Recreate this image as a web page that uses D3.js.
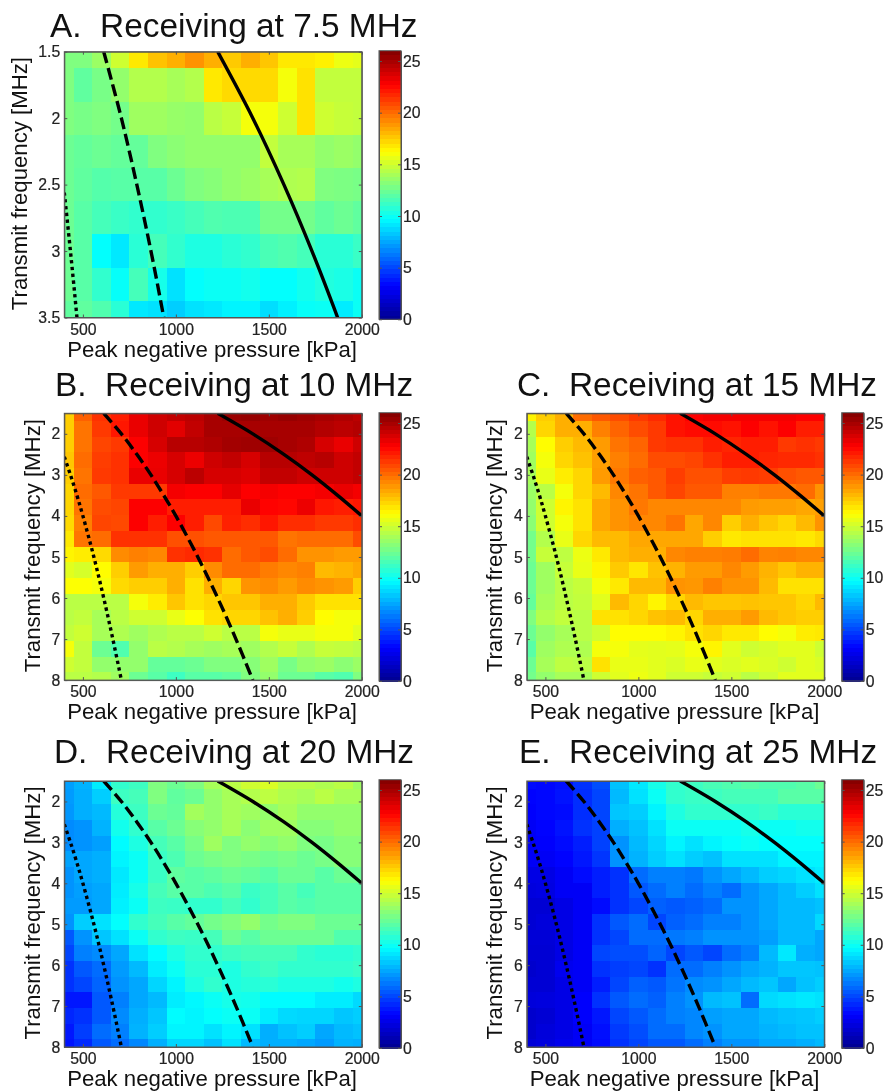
<!DOCTYPE html>
<html>
<head>
<meta charset="utf-8">
<title>Receiving frequency maps</title>
<style>
html, body {margin: 0; padding: 0; background: #fff;}
svg {display: block; filter: blur(0.6px);}
text {font-family: "Liberation Sans", Arial, sans-serif; fill: #111;}
.title {font-size: 33.4px; white-space: pre;}
.label {font-size: 22.2px;}
.tick text {font-size: 15.8px; fill: #222; stroke: #222; stroke-width: 0.2px;}
.domain, .tick line {stroke: #555; stroke-width: 1;}
.cell {shape-rendering: crispEdges;}
</style>
</head>
<body>
<div id="chart"></div>
<script src="https://cdnjs.cloudflare.com/ajax/libs/d3/7.8.5/d3.min.js"></script>
<script>
var pressures = [400, 500, 600, 700, 800, 900, 1000, 1100, 1200, 1300, 1400, 1500, 1600, 1700, 1800, 1900, 2000];
var freqsShort = [1.5, 1.75, 2, 2.25, 2.5, 2.75, 3, 3.25, 3.5];
var freqsLong = [1.5, 1.88, 2.26, 2.65, 3.03, 3.41, 3.79, 4.18, 4.56, 4.94, 5.32, 5.71, 6.09, 6.47, 6.85, 7.24, 7.62, 8];

var xTicks = [500, 1000, 1500, 2000];
var yTicksShort = [1.5, 2, 2.5, 3, 3.5];
var yTicksLong = [2, 3, 4, 5, 6, 7, 8];
var colorTicks = [0, 5, 10, 15, 20, 25];

// pressure at which each threshold line crosses a transmit frequency
var solidFreq = [1.5, 2, 2.5, 3, 3.5, 4];
var solidKpa = [1225, 1414, 1581, 1732, 1870, 2000];
var dashedFreq = [1.5, 2, 2.5, 3, 3.5, 4, 5, 6, 7, 8];
var dashedKpa = [612, 707, 790, 866, 935, 1000, 1118, 1225, 1323, 1414];
var dottedFreq = [2.56, 3, 3.5, 4, 5, 6, 7, 8];
var dottedKpa = [400, 433, 468, 500, 559, 612, 661, 707];

var valuesA = [
	[13,13,13.7,15,16.8,17.8,18.3,19,18.3,17.6,18.3,17.7,16.8,16.8,16.6,15.8,15.6],
	[13,12.2,12.8,13.5,14.3,14.3,14,14.3,16.8,17.2,17.2,17.2,16,17,14.7,14.7,14.7],
	[13,12.8,13,12.7,13.8,13.8,13.6,13.5,14.5,14.8,16,16,15,17,15,14.8,14.7],
	[12.5,12.3,12.5,12.3,12.3,13,13.3,13.5,13.5,13.5,13.5,14.7,14,14,13.5,13.7,13.5],
	[12.5,12.2,11.9,12,12,12,12.5,13,13.2,13.5,13.7,14,14.2,14.3,13,12.9,12.8],
	[12.5,12,11.5,11.2,11,11,11.2,11.5,11.8,11.7,11.7,12.7,12.7,12.7,12.2,12.5,12.2],
	[12.5,12,9.8,9.2,10.8,11.5,11,10.5,10.5,10.8,11,11.6,11.8,11.5,10.8,10.8,11.2],
	[12.5,12,11,9.9,11.5,10.3,9,9.8,10,10,10.2,9.8,9.8,10.2,10.6,10.4,10],
	[12.2,12.2,11.8,10.8,9.2,9,8.5,9,9.2,9.5,9.5,8.9,9.4,9.9,10,9.3,10]
];

var valuesB = [
	[17.5,20.3,21.5,22,23.3,24,24.3,24.5,25,25.3,25.4,25.2,25.4,25.2,25,24.8,24.5],
	[17.5,19.8,21.3,22.2,23.3,24,23.5,24.3,25,25,25,25,25,25,24.7,24.5,24.7],
	[17.5,19.8,21,21.3,22.8,23.8,24.6,24.6,24.8,25.1,25.2,25.2,25,24.8,23.8,23.3,24],
	[17.7,20,21.2,21.5,22.8,23.2,23.8,23.2,24,24.3,23.8,24.6,24.6,24.4,24.6,24,24.3],
	[17.5,19.8,21.3,21.5,23.3,23.3,23.8,24.5,23.8,23.8,23.6,24.3,24.3,24,24,24,24.3],
	[17.3,20,20.5,21.3,21.3,21.3,23,22.8,22.8,23.4,22.8,23,22.8,22.8,23,23.3,23],
	[17.3,19.8,20.8,21,22.8,22.8,22,22,22,22,23.3,22.7,22.6,23.2,22.2,22,22.2],
	[17.2,19.5,21,20.9,22.8,22,22.8,22,20.9,21.9,21.6,22.2,21.6,21.6,21.3,21.3,21.6],
	[16.8,19.8,20,21.5,21.5,21.5,20.7,20.7,20.5,20.5,20.5,20.5,19.8,20,20,20,20.8],
	[16.5,16.7,17.2,19.2,19.5,19.3,21.5,21.7,21.5,20,20.5,20.8,20,19,19,18.8,18.8],
	[15.5,15.2,16.3,17.5,18.8,18.3,18.3,17.5,19.2,20,20,19.6,19.3,19.5,18,18.2,18.5],
	[16.2,16.2,16,17.2,17.5,17.5,18.3,17,18.3,17.3,19,19.2,18.8,19.2,19,18.8,17.5],
	[14.5,14.5,14.5,14.5,16,16.7,17.7,17,17.3,17.7,17.7,18.3,18.3,17.6,17,17,17],
	[14.5,14.7,14,14.5,15,15,15.7,16.2,17,17.3,17.3,17.8,18.3,17.5,16.3,16,16],
	[14.7,15,14,14.2,13.8,14.2,14.5,14.5,15,14.5,14.5,16,15.7,15.7,16,16,15.5],
	[16,14.7,12.5,11.8,13.5,14.5,14.3,14,13.8,14,13.8,14.3,14.8,14.2,14.8,14.7,14.5],
	[15,14.7,13.5,13.5,13.5,12.3,12.3,12.5,13,13,13.2,13.8,12.8,13.5,13.7,13.3,13.7],
	[14.5,14.5,14.3,13.8,12.5,12,11.3,12,12,12.2,13,13.5,12.5,12.5,12,11.8,13]
];

var valuesC = [
	[16.5,17.5,18.3,20,20.5,20.8,21.3,21.7,22.3,22.8,23,23,23,23,23,22.8,22.8],
	[14.3,17.3,18.3,18.3,19.5,20.2,20.8,21.3,22.3,22.5,22.5,22.3,22.8,22.3,22.8,22,22],
	[14,16.3,17.5,18,18.8,19.8,20.2,21.3,21.5,21.5,22,21.8,22,22,21.3,21.5,21.3],
	[13.8,16,17.3,17.8,18.7,19.5,20,20.8,20.8,21,21.5,22,22,21.8,21.7,21.7,21.5],
	[14,15.7,16.7,17.3,18.8,19.7,20.3,20.5,21.2,20.7,20.7,21.2,21.3,21.2,20.7,20.5,20.5],
	[13.7,14.5,16,17.3,18,19.3,19.8,20.5,21,20.5,20.5,19.5,19.5,19.7,19.7,20,19],
	[13.5,15,16.5,17,18.5,19,19.7,19.3,19.3,19.3,19.3,19.3,18.8,18.7,18.7,18.5,18.7],
	[13.3,15,16,17,18.5,19,19.3,19.3,19.8,18.5,19.3,17.5,18.3,17.7,17.3,18,19],
	[12.7,14.3,15.7,17.3,18,18,18.5,18.5,18.5,18.5,17.5,16.8,17,17,17,16.8,17.2],
	[12.7,14.8,14.6,15.8,16.8,18,18.3,18.3,19.3,19.5,19.5,19.6,20,19.4,19.5,19.3,19.3],
	[12.5,13.8,14.8,15.7,16.5,17.6,16.9,17.8,18.2,18.8,18.8,19.3,18.8,18.2,17.7,18.2,18.2],
	[12.5,13.8,14.5,14.8,16,16.8,18,18,19,18.9,19.5,19,19,18,17,17,17],
	[12.3,14,14.5,14.7,15.5,18,17.3,16.5,17.3,18,17.7,17.7,17.8,17.7,17.7,17.3,18],
	[13,14.3,14.7,14.5,17,17,17.3,17.8,18,17.3,18.3,18.3,18.8,18,17.7,17.5,17.5],
	[12.5,13.5,14,14.5,15,16.3,16.3,16.3,16.5,17,17.3,16.8,16.8,16.3,16,16.7,16.8],
	[12,13.8,14.2,14.2,16,16,15.6,15.5,15.6,16,16.5,15.5,15,15.2,15.5,15.5,15],
	[12.5,14,14.6,14.5,17,15.7,15.7,15.5,15.3,15.7,15.5,15.3,15.5,15.3,15,15.5,15.3],
	[12.7,13.5,14,14,15,15.5,15.8,15.5,15,15,14.8,15,14.5,15,15.5,15.5,15.5]
];

var valuesD = [
	[7.3,7.8,9.3,11,11.3,13,12.5,13,14,14.5,15,15.3,14.5,14.5,14.2,14.5,13.8],
	[7.2,7.7,8.5,11.3,11.5,13,12.2,12.5,13.5,14,14.3,14.6,14.2,14,14.5,14,14],
	[7.1,7.7,8,10.7,11.3,12.5,12.3,13.9,13.5,14,13.8,13.5,14,13.5,13.5,13.5,13.5],
	[6.8,7,7.8,10.2,11,12,12.5,13.2,13.5,14,13.3,13.8,13.8,13.2,13.2,13.5,13.5],
	[6.8,7,7.3,9.7,10.5,11.5,12,12.8,13.8,13,13.5,13.2,13.5,13,12.8,13.2,13.2],
	[7.4,7.5,7.7,9.5,10,11.2,11.7,12.5,12.8,13,12.8,12.6,12.8,12.5,12.8,13.2,13.2],
	[7,7.5,7.7,9.2,10,11.2,12.2,12,12.2,12.5,12.3,12,12.5,12.5,12,12.5,12.5],
	[7,7.3,7.5,9.3,10.3,11.5,12,12,11.7,12,11.2,11.5,12,11.5,12,12,12],
	[7.2,7.2,7.5,9.4,10,11.3,11.2,11,11,11.5,11,11.5,12,11.8,12,12,12],
	[7,8.5,9,9.8,11,11.5,12,12.3,12.7,13,13.5,12.7,13,13,12.5,12.5,12.5],
	[5.5,7,8.3,9,10,11,11.3,11.2,11.5,12.5,12,12.5,12.5,12.5,12.5,11.8,11.8],
	[5,6.5,6.8,7.5,9,9.7,10.5,11,11,11.3,11.5,11.5,11.5,11,10.8,10.8,11],
	[4.5,5.5,6,7.2,8,9.3,10,10.8,10.8,10.5,11,11.3,11,11,11,11,11.2],
	[4.5,5,5.8,7,7.5,8.7,9.5,10.5,11,10.5,10.7,10.8,10.5,10.5,10.5,10.2,10.5],
	[3.8,3.8,5.5,6.5,7.5,8,9.3,9.6,10,10.3,10.2,9.7,9.7,9.7,9.3,9.3,8.8],
	[4.2,4.5,5.5,6.8,7.7,8.3,9.7,9.5,9.8,10,10,9.3,8.8,8.7,8.7,8.3,8.5],
	[3.8,4.8,6,6.5,7.8,8.5,9.5,9.5,9,9.5,9,7.7,8.2,8.5,7.5,8,8.2],
	[3.7,4.3,5.5,6,6.7,7.7,8.7,8.7,8.2,9,8,7.7,7.7,7.5,7.2,7.8,7.7]
];

var valuesE = [
	[3.5,3.4,3.6,4.5,5.2,8.2,9.2,10.3,11,11.3,11.6,11.8,12,11.8,11.8,12,12.5],
	[3.3,3.4,3.7,4.4,5,8,9,10,11,11.2,11.3,11.5,11.5,11.5,12,12,12],
	[3.2,3.4,3.5,4.4,5,8.3,8.5,9.5,10.5,11,11,11,11,11.2,10.8,10.8,10.8],
	[3,3.3,3.7,4.5,4.9,7.7,8.2,9,10,10,10,10,10.3,10,10,10.2,10.2],
	[3,3.2,3.5,4,4.9,7,8,8.7,9.5,9,9.5,9.8,10,9.8,9.8,9.8,9.8],
	[3,3,3.3,3.8,4.6,7,7.8,8.5,9,8.5,8.2,9,9,9,9.5,9.5,9.5],
	[2.5,2.5,3,3.5,4,4.5,6,6.5,6.5,6.3,7,7.5,8,8.5,8.7,9,9.3],
	[2.3,2.4,3,3,4,4.5,5.5,6,6.5,6,6.5,6,7,7.5,8,8.5,9],
	[2,2,2.5,3,3.5,4.5,5,5.7,5.5,5.7,6,7,7,7.5,8,8,8.2],
	[2,2.2,2.5,3,4.5,5.5,6,5,5.7,6,6.5,6.5,7,7.5,8,8,8.8],
	[2.1,2.1,2.5,3,4.5,5,6,6,6.3,6.5,7,7,7,7.3,8,8,7.5],
	[2,2,2.5,3,5,5.2,5.2,5.8,5,5.5,5,6,6.5,8,9.2,7.7,7.5],
	[1.8,2,2.8,3,4.5,4.8,5,4.5,6,6,6.5,7,7.5,7.8,8.3,8.3,8.2],
	[2,2,2.5,3,4,5,5.7,5.5,6.2,6.8,7,7.5,8,8.3,7.5,8.2,8.5],
	[2.2,2.3,2.5,3.2,4.5,5.5,6,5.7,6.5,7,8,8.2,6,8.8,9,9.2,9],
	[1.8,2,2.5,3.2,3.8,5,5.5,6,6.5,6.7,7.3,7.5,7.5,8,8.2,8.3,8.5],
	[1.8,2.2,2.5,3,3.6,4.7,5.2,6,6,6.7,7,7.5,7.5,7.8,8,8.2,8.2],
	[2.1,2.3,2.7,3,3.5,4.5,5,5.5,5.5,6,6.5,7,7,7.5,7.5,7.7,8]
];

(function(d3) {
	var width = 885;
	var height = 1091;
	var plotWidth = 297.5;
	var barWidth = 22;

	var jet = d3.scaleLinear()
		.domain([0, 3.25, 9.75, 16.25, 22.75, 26])
		.range(['#00008f', '#0000ff', '#00ffff', '#ffff00', '#ff0000', '#800000']);

	var panels = [
		{title: 'A.  Receiving at 7.5 MHz', values: valuesA, freqs: freqsShort, yTicks: yTicksShort, yFormat: d3.format('.2~f'),
			left: 64.3, top: 51.7, h: 265.8, barLeft: 379, barTop: 50.7, barH: 268.6, titleX: 50, titleY: 37, yLabelX: 26.5, xLabelY: 357},
		{title: 'B.  Receiving at 10 MHz', values: valuesB, freqs: freqsLong, yTicks: yTicksLong, yFormat: d3.format('d'),
			left: 64.3, top: 413.3, h: 266.8, barLeft: 379, barTop: 412.7, barH: 268.3, titleX: 55, titleY: 396, yLabelX: 39.5, xLabelY: 719},
		{title: 'C.  Receiving at 15 MHz', values: valuesC, freqs: freqsLong, yTicks: yTicksLong, yFormat: d3.format('d'),
			left: 526.8, top: 413.3, h: 266.8, barLeft: 841.7, barTop: 412.7, barH: 268.3, titleX: 517, titleY: 396, yLabelX: 502, xLabelY: 719},
		{title: 'D.  Receiving at 20 MHz', values: valuesD, freqs: freqsLong, yTicks: yTicksLong, yFormat: d3.format('d'),
			left: 64.3, top: 781, h: 266, barLeft: 379, barTop: 779.7, barH: 268.3, titleX: 54, titleY: 762.5, yLabelX: 39.5, xLabelY: 1086},
		{title: 'E.  Receiving at 25 MHz', values: valuesE, freqs: freqsLong, yTicks: yTicksLong, yFormat: d3.format('d'),
			left: 526.8, top: 781, h: 266, barLeft: 841.7, barTop: 779.7, barH: 268.3, titleX: 519, titleY: 762.5, yLabelX: 502, xLabelY: 1086}
	];

	var svg = d3.select('#chart')
		.append('svg')
		.attr('width', width)
		.attr('height', height);

	// half-way edges, the first and last cell are cut at the axis limits
	function edges(list) {
		return list.map(function(d, i) {
			return [i === 0 ? d : (list[i - 1] + d) / 2, i === list.length - 1 ? d : (d + list[i + 1]) / 2];
		});
	}

	function zip(fs, ps) {
		return fs.map(function(f, i) { return {f: f, p: ps[i]}; });
	}

	var xEdges = edges(pressures);
	var thresholds = [
		{points: zip(solidFreq, solidKpa), dash: null},
		{points: zip(dashedFreq, dashedKpa), dash: '12 5'},
		{points: zip(dottedFreq, dottedKpa), dash: '3.4 3.4'}
	];

	panels.forEach(function(panel, n) {
		var x = d3.scaleLinear().domain([400, 2000]).range([0, plotWidth]);
		var y = d3.scaleLinear()
			.domain([panel.freqs[0], panel.freqs[panel.freqs.length - 1]])
			.range([0, panel.h]);
		var yEdges = edges(panel.freqs);

		var g = svg.append('g')
			.attr('transform', 'translate(' + panel.left + ',' + panel.top + ')');

		g.append('clipPath')
			.attr('id', 'clip' + n)
			.append('rect')
			.attr('width', plotWidth)
			.attr('height', panel.h);

		panel.values.forEach(function(row, r) {
			g.append('g').selectAll('rect')
				.data(row)
				.enter()
				.append('rect')
				.attr('class', 'cell')
				.attr('x', function(d, c) { return x(xEdges[c][0]); })
				.attr('y', y(yEdges[r][0]))
				.attr('width', function(d, c) { return x(xEdges[c][1]) - x(xEdges[c][0]) + 0.5; })
				.attr('height', y(yEdges[r][1]) - y(yEdges[r][0]) + 0.5)
				.attr('fill', function(d) { return jet(d); });
		});

		var line = d3.line()
			.x(function(d) { return x(d.p); })
			.y(function(d) { return y(d.f); })
			.curve(d3.curveCatmullRom);

		g.append('g')
			.attr('clip-path', 'url(#clip' + n + ')')
			.selectAll('path')
			.data(thresholds)
			.enter()
			.append('path')
			.attr('d', function(d) { return line(d.points); })
			.attr('fill', 'none')
			.attr('stroke', '#000')
			.attr('stroke-width', 3.4)
			.attr('stroke-dasharray', function(d) { return d.dash; });

		// box with small inward ticks on all four sides
		g.append('g')
			.attr('transform', 'translate(0,' + panel.h + ')')
			.call(d3.axisBottom(x).tickValues(xTicks).tickSizeInner(-3).tickSizeOuter(0).tickPadding(6).tickFormat(d3.format('d')));
		g.append('g')
			.call(d3.axisTop(x).tickValues(xTicks).tickSizeInner(-3).tickSizeOuter(0).tickFormat(''));
		g.append('g')
			.call(d3.axisLeft(y).tickValues(panel.yTicks).tickSizeInner(-3).tickSizeOuter(0).tickPadding(4).tickFormat(panel.yFormat));
		g.append('g')
			.attr('transform', 'translate(' + plotWidth + ',0)')
			.call(d3.axisRight(y).tickValues(panel.yTicks).tickSizeInner(-3).tickSizeOuter(0).tickFormat(''));

		svg.append('text')
			.attr('class', 'title')
			.attr('x', panel.titleX)
			.attr('y', panel.titleY)
			.text(panel.title);

		svg.append('text')
			.attr('class', 'label')
			.attr('text-anchor', 'middle')
			.attr('x', panel.left + plotWidth / 2 - 1)
			.attr('y', panel.xLabelY)
			.text('Peak negative pressure [kPa]');

		svg.append('text')
			.attr('class', 'label')
			.attr('text-anchor', 'middle')
			.attr('transform', 'translate(' + panel.yLabelX + ',' + (panel.top + panel.h / 2 - 1) + ') rotate(-90)')
			.text('Transmit frequency [MHz]');

		// colour bar, one band for each of the 64 colormap levels
		var c = d3.scaleLinear().domain([0, 26]).range([panel.barH, 0]);
		var bar = svg.append('g')
			.attr('transform', 'translate(' + panel.barLeft + ',' + panel.barTop + ')');

		bar.selectAll('rect')
			.data(d3.range(64))
			.enter()
			.append('rect')
			.attr('class', 'cell')
			.attr('x', 0)
			.attr('y', function(d) { return c((d + 1) * 26 / 64); })
			.attr('width', barWidth)
			.attr('height', panel.barH / 64 + 0.5)
			.attr('fill', function(d) { return jet((d + 0.5) * 26 / 64); });

		bar.append('g')
			.attr('transform', 'translate(' + barWidth + ',0)')
			.call(d3.axisRight(c).tickValues(colorTicks).tickSizeInner(-3).tickSizeOuter(0).tickPadding(2));
		bar.append('g')
			.call(d3.axisLeft(c).tickValues(colorTicks).tickSizeInner(-3).tickSizeOuter(0).tickFormat(''));
		bar.append('rect')
			.attr('width', barWidth)
			.attr('height', panel.barH)
			.attr('fill', 'none')
			.attr('stroke', '#555');

		g.append('rect')
			.attr('width', plotWidth)
			.attr('height', panel.h)
			.attr('fill', 'none')
			.attr('stroke', '#555');
	});
})(window.d3);
</script>
</body>
</html>
